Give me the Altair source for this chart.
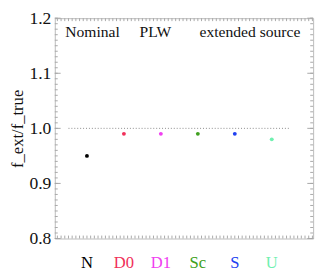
import altair as alt
import pandas as pd
import numpy as np

categories = ["N", "D0", "D1", "Sc", "S", "U"]
xpos = [0, 1, 2, 3, 4, 5]
values = [0.95, 0.99, 0.99, 0.99, 0.99, 0.98]
colors = ["#000000", "#f0305a", "#f040f0", "#40a020", "#2040f0", "#70f0b0"]

notes = ["Nominal", "PLW", "extended source"]
note_x = [0.15, 1.85, 4.41]
note_y = [1.175, 1.175, 1.175]

ref_value = 1.0
ref_x = [-0.5, 5.5]

y_major = [0.8, 0.9, 1.0, 1.1, 1.2]
y_minor = [round(0.8 + 0.01 * i, 2) for i in range(41)]
x_minor = [round(-0.8 + 0.1 * i, 1) for i in range(70)]

W, H = 265, 226
FONT = "Liberation Serif"
XDOM = [-0.87, 6.12]
YDOM = [0.8, 1.2]

pts = pd.DataFrame({"cat": categories, "x": xpos, "v": values, "c": colors})
notes_df = pd.DataFrame({"t": notes, "x": note_x, "y": note_y})
ref_df = pd.DataFrame({"x": [ref_x[0]], "x2": [ref_x[1]], "y": [ref_value]})
ymaj_df = pd.DataFrame({"y": y_major})
ymin_df = pd.DataFrame({"y": y_minor})
xmin_df = pd.DataFrame({"x": x_minor})

xs = alt.Scale(domain=XDOM, nice=False, zero=False)
ys = alt.Scale(domain=YDOM, nice=False, zero=False)
tick_col = "#a8a8a8"

base_axis = alt.Chart(ymaj_df).mark_point(opacity=0).encode(
    y=alt.Y("y:Q", scale=ys,
            axis=alt.Axis(values=y_major, format=".1f", title="f_ext/f_true",
                          domain=False, ticks=False, grid=False,
                          labelFont=FONT, labelFontSize=18, labelColor="#111111",
                          labelPadding=4, titleFont=FONT, titleFontSize=17,
                          titleFontWeight="normal", titleColor="#111111",
                          titlePadding=3)),
    x=alt.value(10),
)

ymin_l = alt.Chart(ymin_df).mark_rule(color=tick_col, strokeWidth=1).encode(
    y=alt.Y("y:Q", scale=ys), x=alt.value(0), x2=alt.value(3))
ymin_r = alt.Chart(ymin_df).mark_rule(color=tick_col, strokeWidth=1).encode(
    y=alt.Y("y:Q", scale=ys), x=alt.value(W), x2=alt.value(W - 3))
ymaj_l = alt.Chart(ymaj_df).mark_rule(color=tick_col, strokeWidth=1).encode(
    y=alt.Y("y:Q", scale=ys), x=alt.value(0), x2=alt.value(6))
ymaj_r = alt.Chart(ymaj_df).mark_rule(color=tick_col, strokeWidth=1).encode(
    y=alt.Y("y:Q", scale=ys), x=alt.value(W), x2=alt.value(W - 6))
xmin_t = alt.Chart(xmin_df).mark_rule(color=tick_col, strokeWidth=1).encode(
    x=alt.X("x:Q", scale=xs, axis=None), y=alt.value(0), y2=alt.value(3))
xmin_b = alt.Chart(xmin_df).mark_rule(color=tick_col, strokeWidth=1).encode(
    x=alt.X("x:Q", scale=xs, axis=None), y=alt.value(H), y2=alt.value(H - 3))

ref = alt.Chart(ref_df).mark_rule(color="#888888", strokeDash=[1, 2], strokeWidth=1).encode(
    x=alt.X("x:Q", scale=xs, axis=None), x2="x2:Q", y=alt.Y("y:Q", scale=ys))

points = alt.Chart(pts).mark_circle(size=16, opacity=1).encode(
    x=alt.X("x:Q", scale=xs, axis=None),
    y=alt.Y("v:Q", scale=ys),
    color=alt.Color("c:N", scale=None),
)

xlabels = alt.Chart(pts).mark_text(font=FONT, fontSize=17, baseline="middle").encode(
    x=alt.X("x:Q", scale=xs, axis=None),
    y=alt.value(H + 25),
    text="cat:N",
    color=alt.Color("c:N", scale=None),
)

note_txt = alt.Chart(notes_df).mark_text(font=FONT, fontSize=16, baseline="middle",
                                          color="#111111").encode(
    x=alt.X("x:Q", scale=xs, axis=None),
    y=alt.Y("y:Q", scale=ys),
    text="t:N",
)

chart = alt.layer(
    base_axis, ymin_l, ymin_r, ymaj_l, ymaj_r, xmin_t, xmin_b, ref, points, xlabels, note_txt
).properties(
    width=W, height=H,
    autosize=alt.AutoSizeParams(type="none"),
    padding={"left": 48, "top": 7, "right": 6, "bottom": 35},
).configure_view(
    stroke="#bbbbbb", strokeWidth=1
)

chart.save("out.html", embed_options={"renderer": "svg", "actions": False})
